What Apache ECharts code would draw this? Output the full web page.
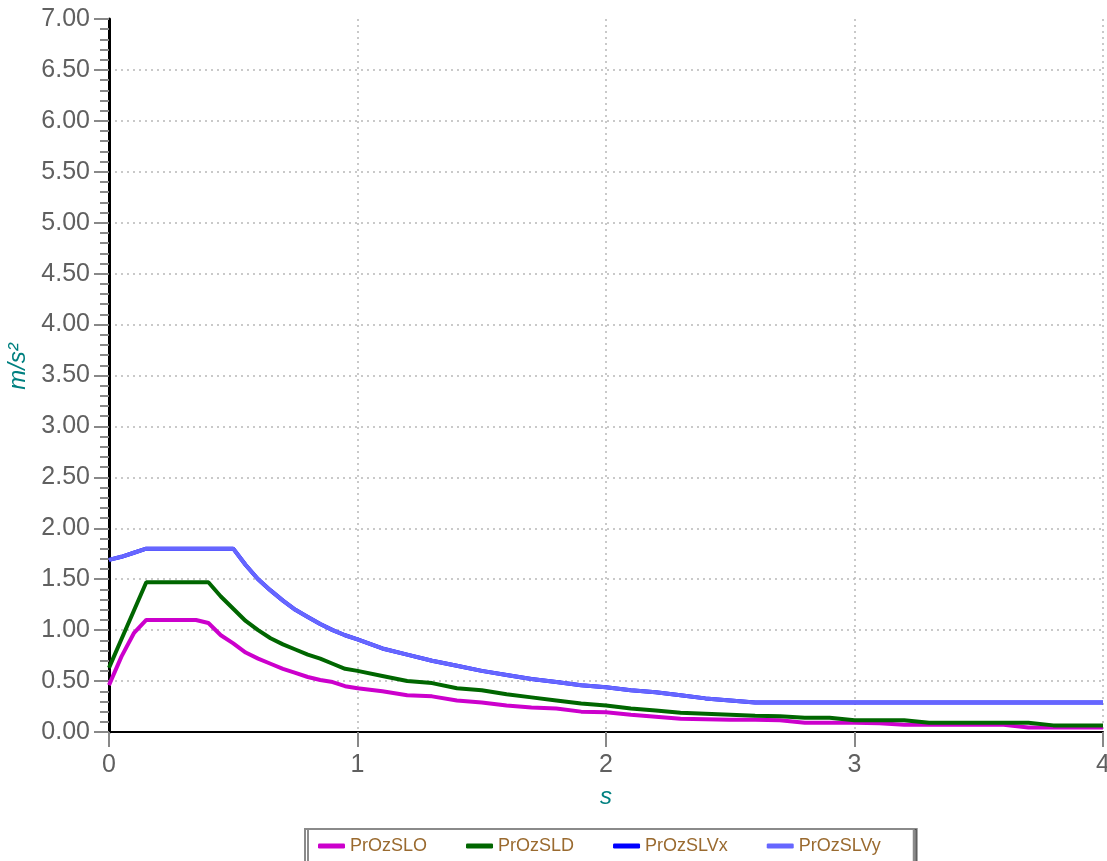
<!DOCTYPE html>
<html>
<head>
<meta charset="utf-8">
<script src="https://cdn.jsdelivr.net/npm/echarts@6/dist/echarts.min.js"></script>
<style>
  html, body { margin: 0; padding: 0; background: #fff; }
  #chart { width: 1107px; height: 861px; }
</style>
</head>
<body>
<div id="chart"></div>
<script>
// periodi (s)
var periods = [0, 0.05, 0.1, 0.15, 0.2, 0.25, 0.3, 0.35, 0.4, 0.45, 0.5, 0.55, 0.6, 0.65, 0.7, 0.75, 0.8, 0.85, 0.9, 0.95, 1.0,
  1.1, 1.2, 1.3, 1.4, 1.5, 1.6, 1.7, 1.8, 1.9, 2.0, 2.1, 2.2, 2.3, 2.4, 2.5, 2.6,
  2.7, 2.8, 2.9, 3.0, 3.1, 3.2, 3.3, 3.4, 3.5, 3.6, 3.7, 3.8, 3.9, 4.0];

var sloValues = [0.46, 0.74, 0.97, 1.10, 1.10, 1.10, 1.10, 1.10, 1.07, 0.95, 0.87, 0.78, 0.72, 0.67, 0.62, 0.58, 0.54, 0.51, 0.49, 0.45, 0.43,
  0.40, 0.36, 0.35, 0.31, 0.29, 0.26, 0.24, 0.23, 0.20, 0.195, 0.17, 0.15, 0.13, 0.125, 0.12, 0.12,
  0.115, 0.09, 0.09, 0.09, 0.085, 0.07, 0.07, 0.07, 0.07, 0.07, 0.045, 0.045, 0.045, 0.045];

var sldValues = [0.63, 0.91, 1.19, 1.47, 1.47, 1.47, 1.47, 1.47, 1.47, 1.33, 1.21, 1.09, 1.00, 0.92, 0.86, 0.81, 0.76, 0.72, 0.67, 0.62, 0.60,
  0.55, 0.50, 0.48, 0.43, 0.41, 0.37, 0.34, 0.31, 0.28, 0.26, 0.23, 0.21, 0.19, 0.18, 0.17, 0.16,
  0.155, 0.14, 0.14, 0.115, 0.115, 0.115, 0.09, 0.09, 0.09, 0.09, 0.09, 0.065, 0.065, 0.065];

// SLVx e' coperto da SLVy (stessi valori)
var slvxValues = [1.69, 1.72, 1.76, 1.80, 1.80, 1.80, 1.80, 1.80, 1.80, 1.80, 1.80, 1.64, 1.50, 1.39, 1.29, 1.20, 1.13, 1.06, 1.00, 0.95, 0.91,
  0.82, 0.76, 0.70, 0.65, 0.60, 0.56, 0.52, 0.49, 0.46, 0.44, 0.41, 0.39, 0.36, 0.33, 0.31, 0.29,
  0.29, 0.29, 0.29, 0.29, 0.29, 0.29, 0.29, 0.29, 0.29, 0.29, 0.29, 0.29, 0.29, 0.29];

var slvyValues = [1.69, 1.72, 1.76, 1.80, 1.80, 1.80, 1.80, 1.80, 1.80, 1.80, 1.80, 1.64, 1.50, 1.39, 1.29, 1.20, 1.13, 1.06, 1.00, 0.95, 0.91,
  0.82, 0.76, 0.70, 0.65, 0.60, 0.56, 0.52, 0.49, 0.46, 0.44, 0.41, 0.39, 0.36, 0.33, 0.31, 0.29,
  0.29, 0.29, 0.29, 0.29, 0.29, 0.29, 0.29, 0.29, 0.29, 0.29, 0.29, 0.29, 0.29, 0.29];

var seriesNames = ['PrOzSLO', 'PrOzSLD', 'PrOzSLVx', 'PrOzSLVy'];
var seriesColors = ['#cc00cc', '#006600', '#0000ff', '#6666ff'];

function pairs(values) {
  return periods.map(function (t, i) { return [t, values[i]]; });
}

var chart = echarts.init(document.getElementById('chart'));
var labelFont = "'Liberation Sans', Arial, sans-serif";

var option = {
  animation: false,
  color: seriesColors,
  grid: {
    left: 109,
    right: 4,
    top: 19,
    bottom: 129,
    containLabel: false,
    outerBoundsMode: 'none'
  },
  legend: {
    data: seriesNames,
    left: 305,
    top: 829,
    padding: [8, 33, 12, 13],
    itemGap: 39,
    itemWidth: 27,
    itemHeight: 5,
    icon: 'roundRect',
    backgroundColor: '#fff',
    borderColor: '#8a8a8a',
    borderWidth: 2,
    shadowColor: 'rgba(0,0,0,0.45)',
    shadowOffsetX: 3,
    shadowOffsetY: 0,
    shadowBlur: 0,
    textStyle: {
      color: '#9a6a2f',
      fontSize: 18,
      fontFamily: labelFont
    }
  },
  xAxis: {
    type: 'value',
    min: 0,
    max: 4,
    interval: 1,
    name: 's',
    nameLocation: 'middle',
    nameGap: 53,
    nameTextStyle: {
      color: '#008080',
      fontStyle: 'italic',
      fontSize: 24,
      fontFamily: labelFont
    },
    axisLine: { show: true, onZero: false, lineStyle: { color: '#000', width: 2 } },
    axisTick: { show: true, length: 15, lineStyle: { color: '#888', width: 2 } },
    axisLabel: {
      margin: 21,
      color: '#606060',
      fontSize: 25,
      fontFamily: labelFont
    },
    splitLine: {
      show: true,
      lineStyle: { color: '#b8b8b8', type: [2, 4], width: 1.5 }
    }
  },
  yAxis: {
    type: 'value',
    min: 0,
    max: 7,
    interval: 0.5,
    name: 'm/s²',
    nameLocation: 'middle',
    nameGap: 74,
    nameTextStyle: {
      color: '#008080',
      fontStyle: 'italic',
      fontSize: 24,
      fontFamily: labelFont,
      padding: [0, 0, 0, 18]
    },
    axisLine: { show: true, onZero: false, lineStyle: { color: '#000', width: 3 } },
    axisTick: { show: true, length: 15, lineStyle: { color: '#888', width: 2 } },
    minorTick: { show: true, splitNumber: 5, length: 9, lineStyle: { color: '#888', width: 2 } },
    axisLabel: {
      margin: 19,
      color: '#606060',
      fontSize: 25,
      fontFamily: labelFont,
      formatter: function (v) { return v.toFixed(2); }
    },
    splitLine: {
      show: true,
      showMaxLine: false,
      lineStyle: { color: '#b8b8b8', type: [2, 4], width: 1.5 }
    }
  },
  series: [
    { name: seriesNames[0], type: 'line', data: pairs(sloValues) },
    { name: seriesNames[1], type: 'line', data: pairs(sldValues) },
    { name: seriesNames[2], type: 'line', data: pairs(slvxValues) },
    { name: seriesNames[3], type: 'line', data: pairs(slvyValues) }
  ].map(function (s) {
    s.symbol = 'none';
    s.lineStyle = { width: 4 };
    return s;
  })
};

option && chart.setOption(option);
</script>
</body>
</html>
